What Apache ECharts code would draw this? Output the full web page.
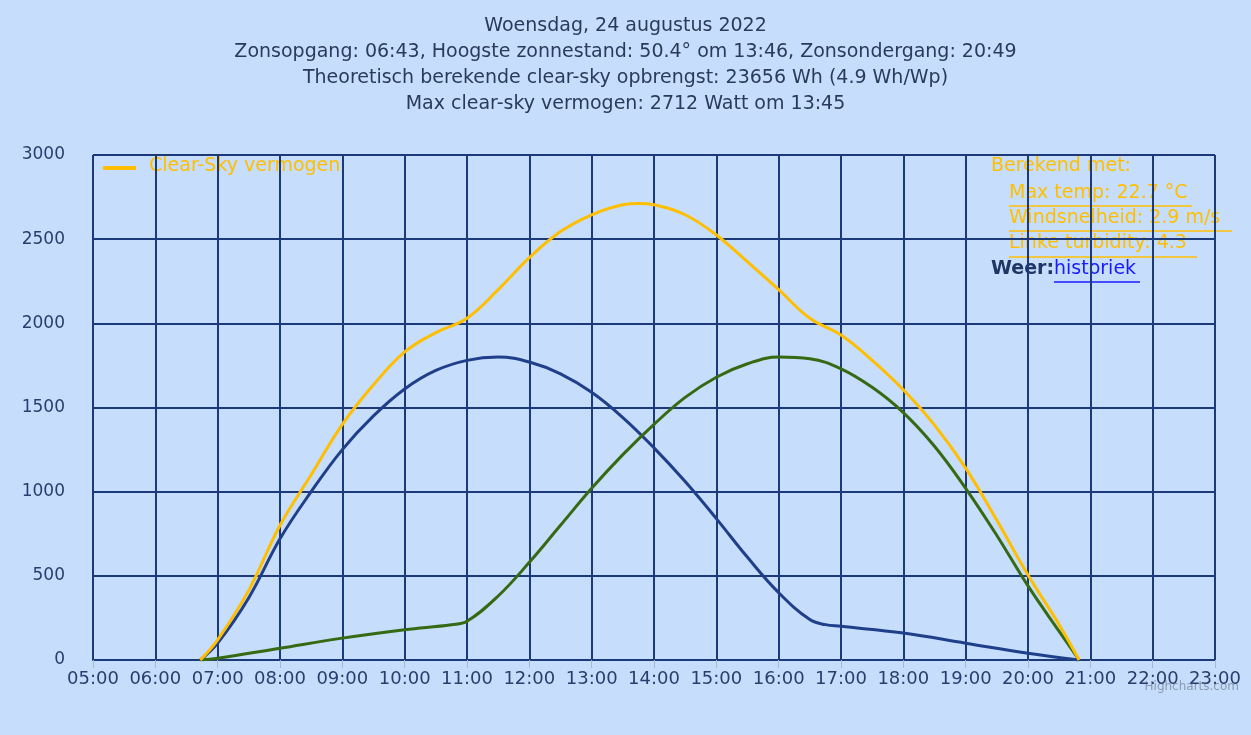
<!DOCTYPE html>
<html><head><meta charset="utf-8">
<script src="https://cdn.jsdelivr.net/npm/echarts@6/dist/echarts.min.js"></script>
<style>html,body{margin:0;padding:0;background:#c6ddfb}#c{width:1251px;height:735px}</style>
</head><body><div id="c"></div>
<script>
const titleLines = ["Woensdag, 24 augustus 2022","Zonsopgang: 06:43, Hoogste zonnestand: 50.4° om 13:46, Zonsondergang: 20:49","Theoretisch berekende clear-sky opbrengst: 23656 Wh (4.9 Wh/Wp)","Max clear-sky vermogen: 2712 Watt om 13:45"];
const clearHours = [6.72,7,7.5,8,8.5,9,9.5,10,10.5,11,11.5,12,12.5,13,13.5,13.75,14,14.5,15,15.5,16,16.5,17,17.5,18,18.5,19,19.5,20,20.5,20.82];
const clearVals  = [0,120,415,800,1100,1400,1635,1830,1945,2030,2200,2390,2545,2645,2705,2712,2705,2645,2525,2365,2200,2030,1930,1780,1605,1395,1140,830,505,210,0];
const eastHours = [6.72,7,7.5,8,8.5,9,9.5,10,10.5,11,11.5,12,12.5,13,13.5,14,14.5,15,15.5,16,16.5,16.75,17,18,19,20,20.82];
const eastVals  = [0,100,370,720,1000,1250,1450,1610,1720,1780,1800,1770,1700,1590,1440,1260,1060,840,610,400,240,210,200,160,100,40,0];
const westHours = [6.72,7,8,9,10,10.75,11,11.5,12,12.5,13,13.5,14,14.5,15,15.5,16,16.5,17,17.5,18,18.5,19,19.5,20,20.5,20.82];
const westVals  = [0,10,70,130,180,210,230,380,580,800,1020,1220,1400,1560,1680,1760,1800,1790,1730,1620,1470,1270,1020,740,440,170,0];
const zip=(h,v)=>h.map((x,i)=>[x,v[i]]);
const navy="#1c3a7a", yellow="#ffbf00";
const chart=echarts.init(document.getElementById('c'));
const fs='19px "DejaVu Sans"';
const txt=(t,y)=>({type:'text',left:'center',top:y,style:{text:t,font:fs,fill:'#2a3a5e'}});
chart.setOption({
  backgroundColor:'#c6ddfb',
  animation:false,
  grid:{left:93,right:36,top:155,bottom:75},
  xAxis:{type:'value',min:5,max:23,interval:1,
    axisLine:{lineStyle:{color:navy,width:2}},axisTick:{show:true,length:8,lineStyle:{color:'#aab8d0'}},
    splitLine:{lineStyle:{color:navy,width:2}},
    axisLabel:{color:'#2a3d6e',fontSize:18,fontFamily:'DejaVu Sans',margin:10,formatter:v=>String(v).padStart(2,'0')+':00'}},
  yAxis:{type:'value',min:0,max:3000,interval:500,
    axisLine:{show:false},axisTick:{show:false},
    splitLine:{lineStyle:{color:navy,width:2}},
    axisLabel:{color:'#2a3d6e',fontSize:17,fontFamily:'DejaVu Sans',margin:28,formatter:v=>String(v)}},
  series:[
    {type:'line',name:'Oost',data:zip(eastHours,eastVals),smooth:0.4,showSymbol:false,lineStyle:{color:'#1f3f8a',width:3},z:3},
    {type:'line',name:'West',data:zip(westHours,westVals),smooth:0.4,showSymbol:false,lineStyle:{color:'#366a12',width:3},z:3},
    {type:'line',name:'Clear-Sky vermogen',data:zip(clearHours,clearVals),smooth:0.4,showSymbol:false,lineStyle:{color:yellow,width:3},z:4}
  ],
  graphic:[
    txt(titleLines[0],17),txt(titleLines[1],43),txt(titleLines[2],69),txt(titleLines[3],95),
    {type:'line',shape:{x1:103,y1:168,x2:136,y2:168},style:{stroke:yellow,lineWidth:4}},
    {type:'text',left:149,top:157,style:{text:'Clear-Sky vermogen',font:fs,fill:yellow}},
    {type:'text',left:991,top:157,style:{text:'Berekend met:',font:fs,fill:yellow}},
    {type:'text',left:1009,top:184,style:{text:'Max temp: 22.7 °C',font:fs,fill:yellow}},
    {type:'line',shape:{x1:1009,y1:206,x2:1192,y2:206},style:{stroke:yellow,lineWidth:1.5}},
    {type:'text',left:1009,top:209,style:{text:'Windsnelheid: 2.9 m/s',font:fs,fill:yellow}},
    {type:'line',shape:{x1:1009,y1:231,x2:1232,y2:231},style:{stroke:yellow,lineWidth:1.5}},
    {type:'text',left:1009,top:234,style:{text:'Linke turbidity: 4.3',font:fs,fill:yellow}},
    {type:'line',shape:{x1:1009,y1:257,x2:1197,y2:257},style:{stroke:yellow,lineWidth:1.5}},
    {type:'text',left:991,top:260,style:{text:'Weer:',font:'bold '+fs,fill:'#1f3566'}},
    {type:'text',left:1054,top:260,style:{text:'historiek',font:fs,fill:'#1a1aff'}},
    {type:'line',shape:{x1:1054,y1:282,x2:1140,y2:282},style:{stroke:'#1a1aff',lineWidth:1.5}},
    {type:'text',right:12,top:681,style:{text:'Highcharts.com',font:'12px "DejaVu Sans"',fill:'#8a9ab0'}}
  ]
});
</script></body></html>
